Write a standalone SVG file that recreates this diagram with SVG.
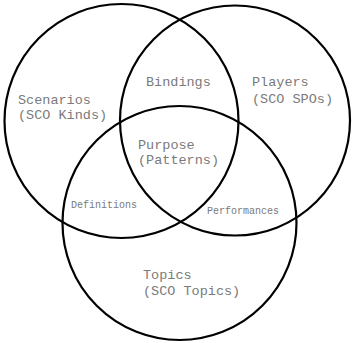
<svg xmlns="http://www.w3.org/2000/svg" width="352" height="343" viewBox="0 0 352 343">
<style>
.c{fill:none;stroke:#000;stroke-width:2.2}
.t{font-family:"Liberation Mono","Courier New",monospace;font-size:13.5px;fill:#7a7a7a}
.s{font-family:"Liberation Mono","Courier New",monospace;font-size:10px;fill:#7a7a7a}
</style>
<rect width="352" height="343" fill="#fff"/>
<g id="connectors"></g>
<g id="scenarios">
<circle class="c" cx="121.5" cy="121" r="117"/>
<text class="t" x="18" y="104">Scenarios</text>
<text class="t" x="18" y="119">(SCO Kinds)</text>
</g>
<g id="players">
<circle class="c" cx="235" cy="120.5" r="115"/>
<text class="t" x="252" y="86">Players</text>
<text class="t" x="252" y="103">(SCO SPOs)</text>
</g>
<g id="topics">
<circle class="c" cx="179.5" cy="223" r="117"/>
<text class="t" x="143" y="279">Topics</text>
<text class="t" x="143" y="295">(SCO Topics)</text>
</g>
<g id="bindings">
<text class="t" x="146" y="86">Bindings</text>
</g>
<g id="purpose">
<text class="t" x="138" y="149">Purpose</text>
<text class="t" x="138" y="164">(Patterns)</text>
</g>
<g id="definitions">
<text class="s" x="71" y="208">Definitions</text>
</g>
<g id="performances">
<text class="s" x="207" y="214">Performances</text>
</g>
</svg>
